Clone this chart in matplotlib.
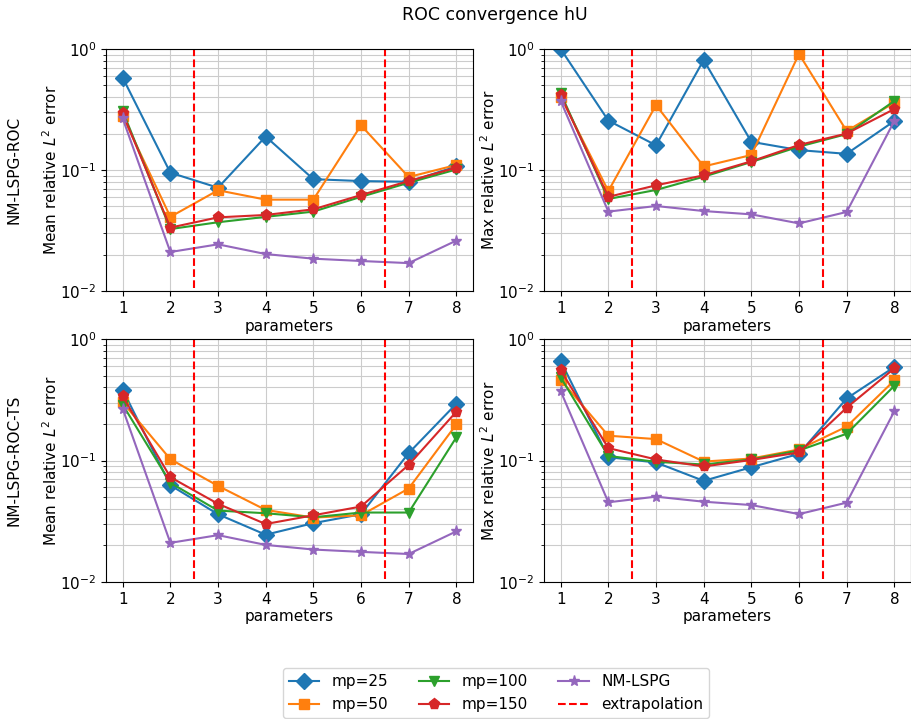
import numpy as np
import matplotlib
matplotlib.use('Agg')
import matplotlib.pyplot as plt

params = [1, 2, 3, 4, 5, 6, 7, 8]
labels = ['mp=25', 'mp=50', 'mp=100', 'mp=150']

# ROC: mean / max relative error
roc_mean = {
    'mp=25':  [0.58, 0.095, 0.0714, 0.189, 0.084, 0.081, 0.080, 0.107],
    'mp=50':  [0.279, 0.041, 0.068, 0.0569, 0.0569, 0.234, 0.0875, 0.110],
    'mp=100': [0.307, 0.0325, 0.037, 0.041, 0.0453, 0.060, 0.0785, 0.101],
    'mp=150': [0.294, 0.0334, 0.0406, 0.0425, 0.0473, 0.0621, 0.081, 0.1045],
}
roc_max = {
    'mp=25':  [1.0, 0.256, 0.160, 0.811, 0.171, 0.146, 0.136, 0.254],
    'mp=50':  [0.404, 0.067, 0.344, 0.107, 0.133, 0.91, 0.21, 0.36],
    'mp=100': [0.43, 0.0576, 0.0684, 0.088, 0.1165, 0.156, 0.198, 0.372],
    'mp=150': [0.414, 0.060, 0.0747, 0.0904, 0.118, 0.161, 0.20, 0.319],
}
# ROC-TS
ts_mean = {
    'mp=25':  [0.382, 0.0626, 0.0361, 0.0245, 0.0305, 0.0361, 0.115, 0.293],
    'mp=50':  [0.301, 0.1025, 0.0618, 0.0392, 0.0339, 0.0354, 0.0588, 0.198],
    'mp=100': [0.288, 0.0655, 0.0387, 0.0368, 0.0341, 0.0373, 0.0373, 0.155],
    'mp=150': [0.337, 0.0729, 0.044, 0.030, 0.0354, 0.0418, 0.092, 0.252],
}
ts_max = {
    'mp=25':  [0.659, 0.1065, 0.0963, 0.068, 0.088, 0.1135, 0.324, 0.588],
    'mp=50':  [0.462, 0.16, 0.150, 0.098, 0.1038, 0.1233, 0.19, 0.456],
    'mp=100': [0.483, 0.109, 0.0975, 0.0927, 0.102, 0.121, 0.166, 0.412],
    'mp=150': [0.552, 0.1265, 0.102, 0.0893, 0.101, 0.1165, 0.272, 0.573],
}
nm_mean = [0.267, 0.021, 0.0243, 0.0202, 0.0185, 0.0177, 0.0170, 0.0261]
nm_max = [0.372, 0.0453, 0.0504, 0.0458, 0.043, 0.0362, 0.045, 0.254]

markers = ['D', 's', 'v', 'p']
colors = ['tab:blue', 'tab:orange', 'tab:green', 'tab:red']
msizes = [8, 7, 7, 8]

plt.rcParams['font.size'] = 11

fig = plt.figure(figsize=(9.11, 7.19), dpi=100)
W, H = 911.0, 719.0
def box(l, r, t, b):
    return [l / W, 1 - b / H, (r - l) / W, (b - t) / H]

ax_tl = fig.add_axes(box(106, 473, 49, 291))
ax_tr = fig.add_axes(box(544, 911, 49, 291))
ax_bl = fig.add_axes(box(106, 473, 339, 582))
ax_br = fig.add_axes(box(544, 911, 339, 582))

panels = [
    (ax_tl, roc_mean, nm_mean, 'Mean relative $L^2$ error'),
    (ax_tr, roc_max, nm_max, 'Max relative $L^2$ error'),
    (ax_bl, ts_mean, nm_mean, 'Mean relative $L^2$ error'),
    (ax_br, ts_max, nm_max, 'Max relative $L^2$ error'),
]

for ax, data, nm, ylab in panels:
    for lab, m, c, ms in zip(labels, markers, colors, msizes):
        ax.plot(params, data[lab], marker=m, color=c, ms=ms, label=lab)
    ax.plot(params, nm, marker='*', color='tab:purple', ms=8, label='NM-LSPG')
    ax.vlines([2.5, 6.5], 0.0106, 1.0, colors='red', linestyles='--',
              label='extrapolation')
    ax.set_yscale('log')
    ax.set_ylim(0.01, 1.0)
    ax.set_xlim(0.65, 8.35)
    ax.set_xticks(params)
    ax.grid(True, which='major', color='#cccccc')
    ax.grid(True, which='minor', axis='y', color='#cccccc')
    ax.set_xlabel('parameters', labelpad=2)
    ax.set_ylabel(ylab, labelpad=0)

fig.text(14 / W, 1 - 170 / H, 'NM-LSPG-ROC', rotation=90, ha='center', va='center')
fig.text(14 / W, 1 - 460 / H, 'NM-LSPG-ROC-TS', rotation=90, ha='center', va='center')
fig.suptitle('ROC convergence hU', x=495 / W, y=1 - 6 / H, va='top', fontsize=12.5)

handles, labs = ax_tl.get_legend_handles_labels()
fig.legend(handles, labs, ncol=3, loc='lower center', bbox_to_anchor=(496 / W, 1 / H),
           fontsize=11, borderaxespad=0)

fig.savefig('out.png', dpi=100)
